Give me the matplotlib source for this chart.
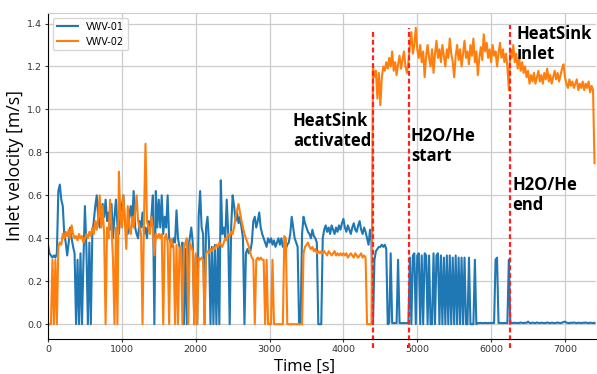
import numpy as np
import matplotlib
matplotlib.use('Agg')
import matplotlib.pyplot as plt

# sample times [s], one reading every 20 s
time_s = np.arange(0, 7401, 20)

# VWV-01 inlet velocity [m/s]
vwv01 = [
    0.37, 0.33, 0.32, 0.31, 0.32, 0.31, 0.33, 0.62, 0.65, 0.58, 0.55, 0.42, 0.38, 0.32, 0.38, 0.45, 0.40, 0.36, 0.33, 0.0, 0.30, 0.0, 0.33, 0.0, 0.30,
    0.55, 0.35, 0.0, 0.38, 0.0, 0.42, 0.48, 0.55, 0.60, 0.50, 0.45, 0.52, 0.56, 0.50, 0.58, 0.48, 0.52, 0.44, 0.56, 0.40, 0.50, 0.58, 0.46, 0.42, 0.52,
    0.55, 0.60, 0.48, 0.45, 0.42, 0.50, 0.55, 0.48, 0.62, 0.45, 0.42, 0.40, 0.48, 0.45, 0.52, 0.42, 0.45, 0.40, 0.48, 0.45, 0.50, 0.60, 0.0, 0.62, 0.45,
    0.58, 0.45, 0.60, 0.42, 0.50, 0.45, 0.60, 0.40, 0.38, 0.36, 0.40, 0.38, 0.53, 0.40, 0.36, 0.33, 0.38, 0.0, 0.35, 0.0, 0.36, 0.40, 0.45, 0.38, 0.0,
    0.32, 0.0, 0.50, 0.62, 0.45, 0.42, 0.0, 0.45, 0.50, 0.38, 0.0, 0.36, 0.0, 0.37, 0.0, 0.36, 0.0, 0.67, 0.42, 0.45, 0.40, 0.58, 0.42, 0.0, 0.45,
    0.60, 0.55, 0.48, 0.52, 0.47, 0.50, 0.45, 0.40, 0.0, 0.33, 0.35, 0.33, 0.34, 0.38, 0.48, 0.50, 0.45, 0.48, 0.52, 0.45, 0.42, 0.40, 0.38, 0.36, 0.40,
    0.38, 0.40, 0.37, 0.39, 0.36, 0.38, 0.40, 0.37, 0.40, 0.36, 0.38, 0.35, 0.37, 0.38, 0.42, 0.50, 0.45, 0.40, 0.38, 0.36, 0.0, 0.0, 0.42, 0.50, 0.47,
    0.45, 0.43, 0.42, 0.40, 0.44, 0.41, 0.40, 0.38, 0.0, 0.0, 0.0, 0.40, 0.44, 0.46, 0.43, 0.45, 0.42, 0.46, 0.44, 0.42, 0.45, 0.43, 0.46, 0.44, 0.47,
    0.49, 0.45, 0.43, 0.46, 0.44, 0.42, 0.45, 0.47, 0.44, 0.43, 0.46, 0.48, 0.44, 0.42, 0.45, 0.43, 0.40, 0.37, 0.44, 0.38, 0.0, 0.30, 0.34, 0.35, 0.36,
    0.36, 0.37, 0.36, 0.37, 0.35, 0.0, 0.005, 0.33, 0.005, 0.005, 0.005, 0.005, 0.30, 0.005, 0.005, 0.005, 0.005, 0.005, 0.005, 0.005, 0.31, 0.0, 0.32, 0.33, 0.0,
    0.32, 0.33, 0.0, 0.32, 0.0, 0.33, 0.32, 0.0, 0.32, 0.0, 0.0, 0.33, 0.0, 0.32, 0.33, 0.0, 0.32, 0.0, 0.31, 0.0, 0.32, 0.0, 0.32, 0.0, 0.31,
    0.0, 0.32, 0.0, 0.31, 0.0, 0.31, 0.0, 0.31, 0.0, 0.0, 0.31, 0.0, 0.0, 0.0, 0.30, 0.0, 0.005, 0.005, 0.006, 0.005, 0.005, 0.006, 0.005, 0.005, 0.006,
    0.005, 0.006, 0.005, 0.30, 0.31, 0.005, 0.006, 0.005, 0.005, 0.006, 0.005, 0.005, 0.30, 0.005, 0.006, 0.005, 0.007, 0.005, 0.006, 0.005, 0.008, 0.006, 0.005, 0.007, 0.006,
    0.012, 0.006, 0.005, 0.007, 0.006, 0.005, 0.008, 0.006, 0.005, 0.007, 0.006, 0.005, 0.006, 0.008, 0.006, 0.005, 0.007, 0.006, 0.005, 0.006, 0.008, 0.006, 0.005, 0.007, 0.010,
    0.012, 0.007, 0.006, 0.005, 0.007, 0.006, 0.008, 0.006, 0.005, 0.007, 0.006, 0.005, 0.007, 0.006, 0.008, 0.006, 0.005, 0.007, 0.006, 0.005, 0.006,
]

# VWV-02 inlet velocity [m/s]
vwv02 = [
    0.0, 0.0, 0.0, 0.30, 0.0, 0.30, 0.0, 0.36, 0.38, 0.37, 0.42, 0.40, 0.43, 0.41, 0.44, 0.40, 0.46, 0.42, 0.40, 0.41, 0.39, 0.42, 0.40, 0.41, 0.38,
    0.40, 0.42, 0.40, 0.43, 0.41, 0.45, 0.42, 0.48, 0.44, 0.50, 0.60, 0.45, 0.55, 0.42, 0.0, 0.45, 0.40, 0.58, 0.45, 0.30, 0.0, 0.45, 0.0, 0.71, 0.50,
    0.45, 0.60, 0.48, 0.35, 0.55, 0.45, 0.42, 0.50, 0.45, 0.52, 0.60, 0.48, 0.45, 0.42, 0.0, 0.50, 0.84, 0.48, 0.45, 0.42, 0.50, 0.45, 0.32, 0.42, 0.40,
    0.42, 0.40, 0.42, 0.0, 0.40, 0.42, 0.38, 0.0, 0.40, 0.38, 0.36, 0.0, 0.37, 0.0, 0.35, 0.36, 0.0, 0.35, 0.38, 0.40, 0.0, 0.38, 0.36, 0.34, 0.0,
    0.33, 0.0, 0.31, 0.30, 0.31, 0.30, 0.0, 0.33, 0.34, 0.33, 0.35, 0.34, 0.36, 0.35, 0.37, 0.36, 0.38, 0.37, 0.36, 0.38, 0.40, 0.39, 0.42, 0.41, 0.43,
    0.42, 0.45, 0.50, 0.53, 0.56, 0.52, 0.48, 0.45, 0.42, 0.40, 0.38, 0.36, 0.33, 0.31, 0.30, 0.0, 0.30, 0.31, 0.30, 0.31, 0.30, 0.30, 0.0, 0.30, 0.0,
    0.0, 0.0, 0.30, 0.0, 0.0, 0.0, 0.0, 0.0, 0.0, 0.0, 0.41, 0.40, 0.0, 0.0, 0.0, 0.0, 0.0, 0.0, 0.0, 0.0, 0.0, 0.0, 0.0, 0.33, 0.36,
    0.37, 0.38, 0.36, 0.35, 0.36, 0.34, 0.35, 0.33, 0.34, 0.33, 0.34, 0.33, 0.34, 0.33, 0.32, 0.34, 0.33, 0.32, 0.33, 0.34, 0.32, 0.33, 0.32, 0.33, 0.32,
    0.33, 0.32, 0.33, 0.31, 0.32, 0.33, 0.32, 0.31, 0.33, 0.32, 0.31, 0.32, 0.33, 0.31, 0.32, 0.31, 0.0, 0.0, 0.0, 0.0, 1.20, 1.15, 1.18, 1.05, 1.17,
    1.02, 1.15, 1.20, 1.18, 1.22, 1.19, 1.24, 1.20, 1.27, 1.18, 1.22, 1.16, 1.21, 1.25, 1.19, 1.23, 1.27, 1.20, 1.17, 1.22, 1.30, 1.36, 1.26, 1.30, 1.38,
    1.28, 1.24, 1.30, 1.22, 1.27, 1.15, 1.25, 1.30, 1.24, 1.20, 1.28, 1.17, 1.26, 1.32, 1.24, 1.28, 1.22, 1.30, 1.25, 1.20, 1.28, 1.24, 1.33, 1.26, 1.22,
    1.15, 1.25, 1.30, 1.23, 1.28, 1.20, 1.26, 1.32, 1.24, 1.27, 1.21, 1.30, 1.25, 1.33, 1.22, 1.27, 1.16, 1.24, 1.29, 1.23, 1.35, 1.27, 1.31, 1.24, 1.28,
    1.22, 1.30, 1.25, 1.27, 1.20, 1.26, 1.31, 1.24, 1.28, 1.22, 1.26, 1.20, 1.09, 1.28, 1.24, 1.30, 1.22, 1.26, 1.19, 1.24, 1.18, 1.22, 1.17, 1.20, 1.15,
    1.18, 1.12, 1.16, 1.13, 1.17, 1.12, 1.15, 1.18, 1.13, 1.16, 1.12, 1.17, 1.14, 1.19, 1.13, 1.16, 1.12, 1.15, 1.18, 1.14, 1.17, 1.13, 1.16, 1.19, 1.21,
    1.15, 1.12, 1.10, 1.14, 1.11, 1.13, 1.10, 1.12, 1.14, 1.09, 1.12, 1.10, 1.13, 1.09, 1.12, 1.10, 1.13, 1.08, 1.11, 1.09, 0.75,
]

# event times [s] and their labels
event_times = [4397, 4892, 6251]
event_labels = ['HeatSink\nactivated', 'H2O/He\nstart', 'H2O/He\nend', 'HeatSink\ninlet']

W, H = 597, 374
fig = plt.figure(figsize=(W / 100, H / 100), dpi=100)
ax = fig.add_axes([48 / W, 1 - 339 / H, 548 / W, 326 / H])

ax.plot(time_s, vwv01, color='#1f77b4', lw=1.5, label='VWV-01')
ax.plot(time_s, vwv02, color='#ff7f0e', lw=1.5, label='VWV-02')

ax.set_xlim(0, 7420)
ax.set_ylim(-0.069, 1.449)
ax.set_xticks(range(0, 7001, 1000))
ax.set_yticks(np.arange(0, 1.41, 0.2))
ax.yaxis.set_major_formatter(matplotlib.ticker.FormatStrFormatter('%.1f'))
ax.tick_params(labelsize=6.8, labelcolor='#333333', length=2.5, pad=1.8, color='#333333')
ax.grid(True, color='#cccccc', lw=0.9)
ax.set_axisbelow(True)
ax.spines['right'].set_visible(False)
ax.spines['top'].set_color('#cccccc')

ax.set_xlabel('Time [s]', fontsize=12, family='Open Sans')
ax.xaxis.set_label_coords(0.468, -0.062)
ax.set_ylabel('Inlet velocity [m/s]', fontsize=12.8, family='Open Sans')
ax.yaxis.set_label_coords(-0.044, 0.532)

ax.legend(loc='upper left', fontsize=7, handlelength=2.2, borderpad=0.4,
          bbox_to_anchor=(0.0, 1.0))

# red dashed event markers, drawn past the axes like in the original slide
tops = [32, 28, 25]
for t, top in zip(event_times, tops):
    ax.axvline(t, ymin=(339 - 348) / 326, ymax=(339 - top) / 326, color='#ff2020',
               lw=1.6, dashes=(2.2, 1.3), clip_on=False)

# annotation text, pixel positions of top-left corner
text_pos = [(293, 112), (411, 127), (512, 176), (517, 25)]
for lab, (x, y) in zip(event_labels, text_pos):
    fig.text(x / W, 1 - y / H, lab, fontsize=12, fontweight='bold', family='Open Sans',
             va='top', ha='left', linespacing=1.15)

fig.savefig('out.png', dpi=100)
